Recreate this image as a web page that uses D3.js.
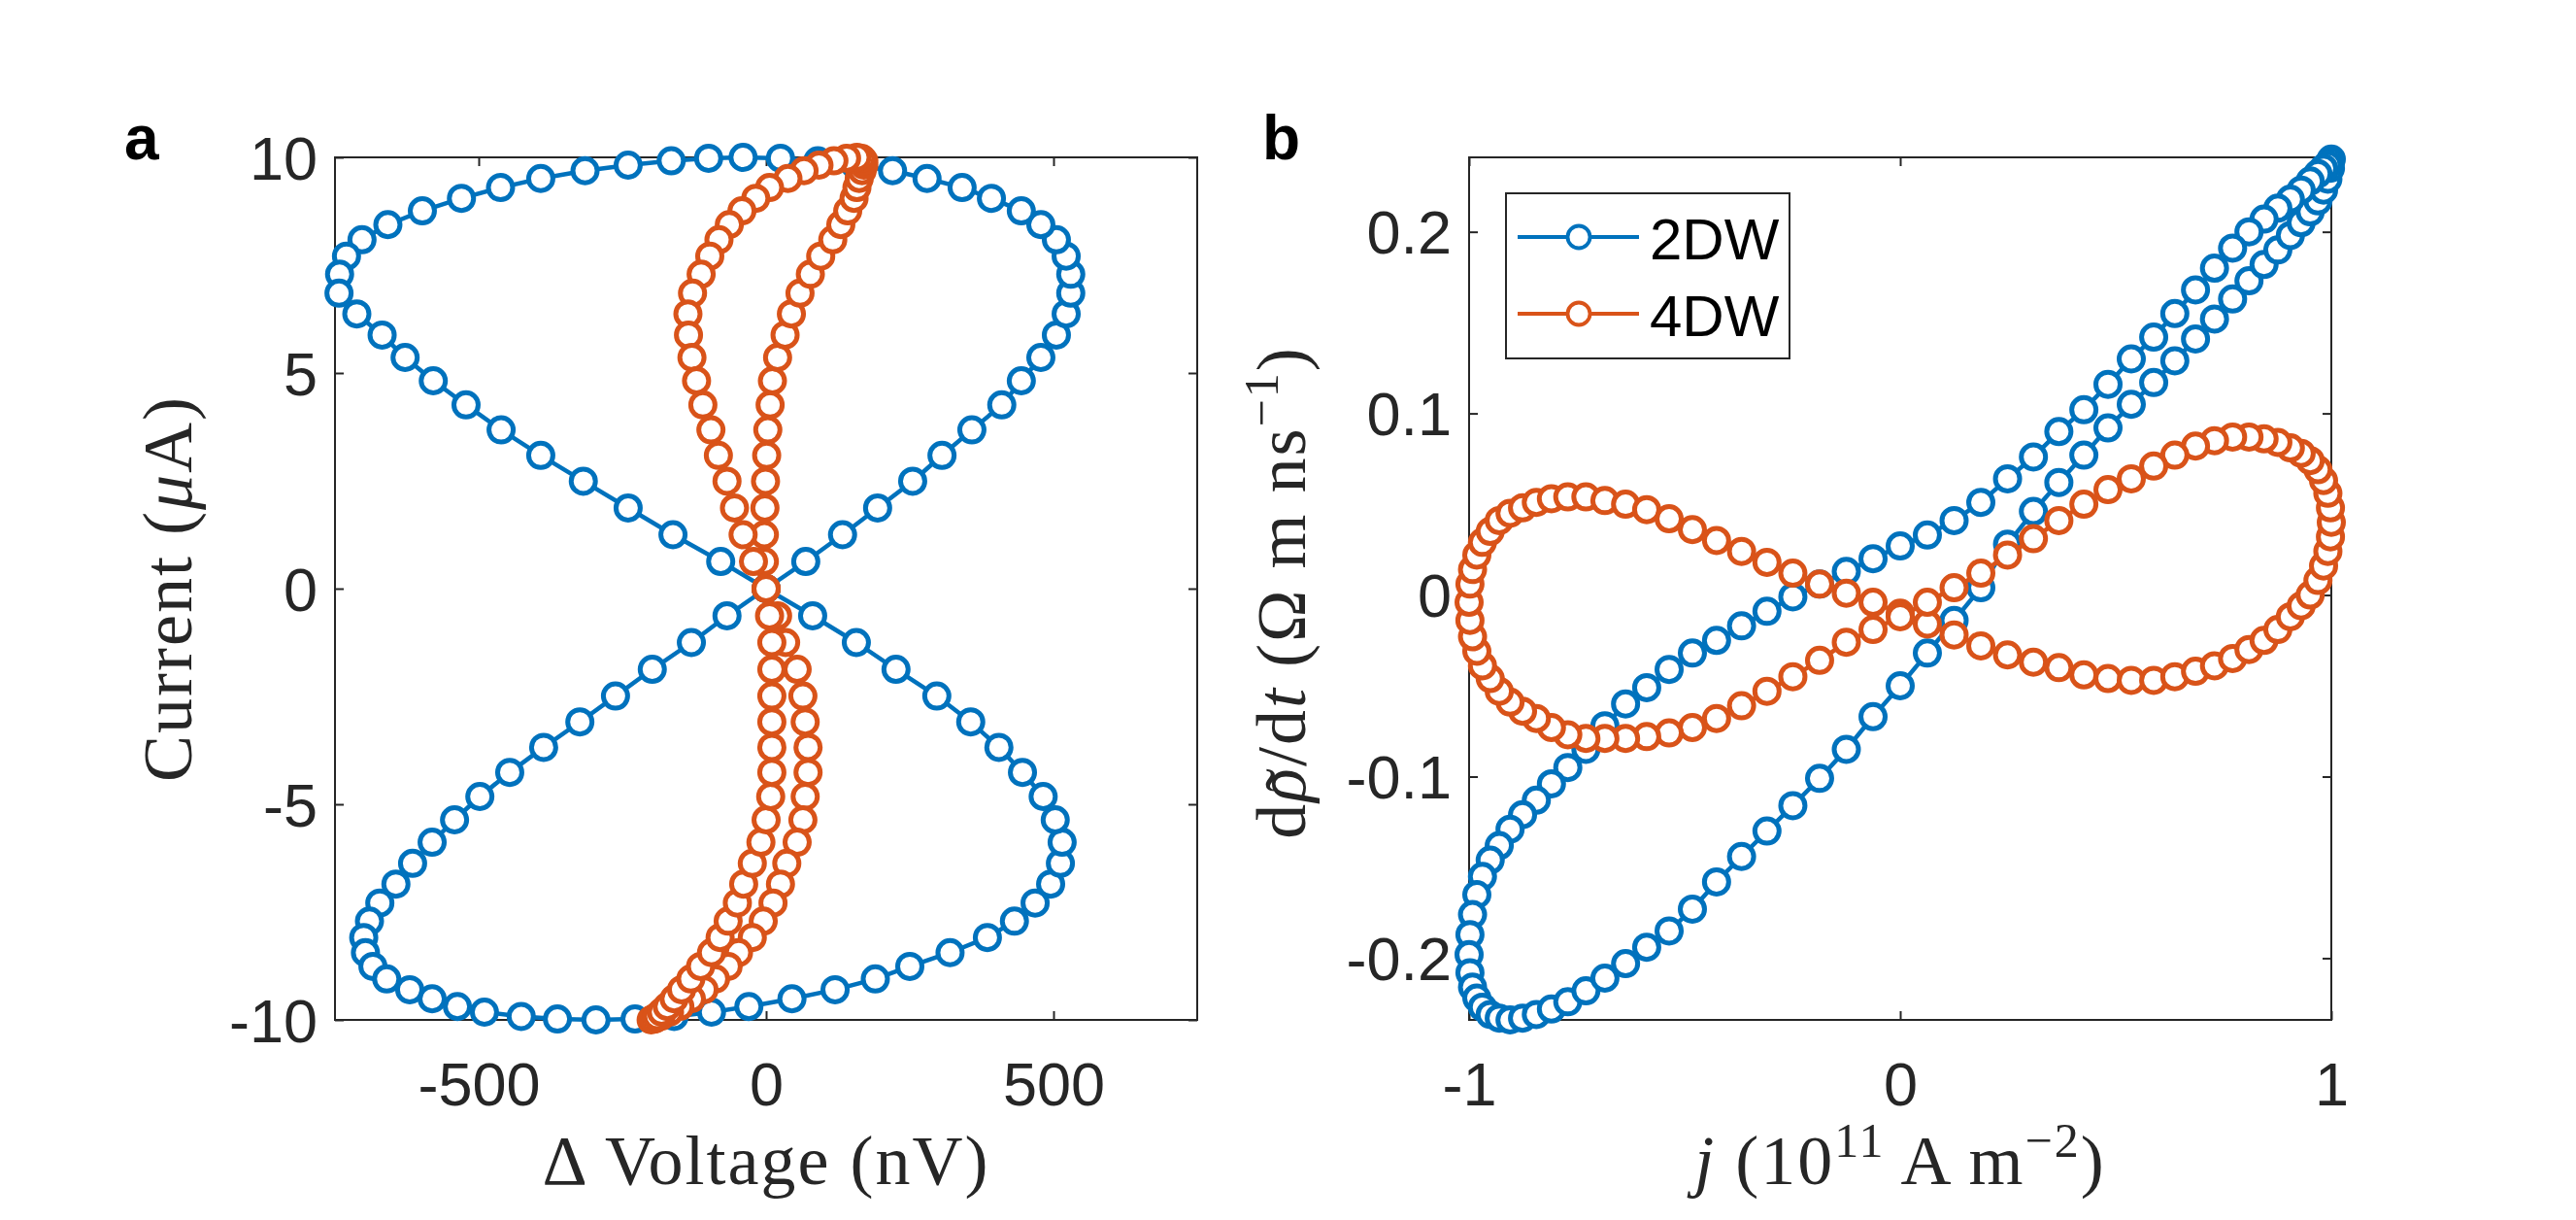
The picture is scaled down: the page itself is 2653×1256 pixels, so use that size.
<!DOCTYPE html>
<html>
<head>
<meta charset="utf-8">
<script src="https://d3js.org/d3.v7.min.js"></script>
<style>
body { margin: 0; background: #ffffff; }
</style>
</head>
<body>
<svg id="fig" width="2653" height="1256"></svg>
<script>

// panel a: current (uA) vs delta voltage (nV), one drive cycle
var currentA = [
    0, 0.63, 1.25, 1.87, 2.49, 3.09, 3.68, 4.26, 4.82, 5.36, 5.88, 6.37, 6.85, 7.29, 7.71, 8.09, 8.44, 8.76, 9.05, 9.30, 9.51, 9.69, 9.82, 9.92, 9.98,
    10.0, 9.98, 9.92, 9.82, 9.69, 9.51, 9.30, 9.05, 8.76, 8.44, 8.09, 7.71, 7.29, 6.85, 6.37, 5.88, 5.36, 4.82, 4.26, 3.68, 3.09, 2.49, 1.87, 1.25, 0.63,
    0, -0.63, -1.25, -1.87, -2.49, -3.09, -3.68, -4.26, -4.82, -5.36, -5.88, -6.37, -6.85, -7.29, -7.71, -8.09, -8.44, -8.76, -9.05, -9.30, -9.51, -9.69, -9.82, -9.92, -9.98,
    -10.0, -9.98, -9.92, -9.82, -9.69, -9.51, -9.30, -9.05, -8.76, -8.44, -8.09, -7.71, -7.29, -6.85, -6.37, -5.88, -5.36, -4.82, -4.26, -3.68, -3.09, -2.49, -1.87, -1.25, -0.63
];
var voltBlue = [
    0, 69, 133, 194, 255, 306, 358, 410, 444, 478, 505, 522, 530, 530, 522, 505, 478, 444, 392, 341, 280, 220, 155, 90, 25,
    -40, -100, -165, -240, -315, -392, -462, -530, -598, -658, -703, -730, -742, -743, -712, -668, -628, -579, -522, -461, -392, -318, -240, -162, -79,
    0, -68, -130, -198, -262, -324, -387, -446, -498, -542, -581, -615, -644, -672, -690, -700, -697, -684, -660, -620, -581, -537, -490, -426, -363,
    -296, -228, -160, -95, -30, 45, 120, 190, 250, 320, 385, 432, 468, 495, 512, 515, 503, 482, 446, 405, 356, 297, 226, 157, 81
];
var voltOrange = [
    0, -3, -3, -2, -1, 1, 3, 7, 11, 20, 33, 44, 59, 77, 95, 116, 130, 142, 153, 158, 162, 167, 170, 170, 166,
    158, 140, 118, 92, 66, 38, 6, -18, -42, -64, -82, -98, -113, -128, -136, -135, -129, -121, -110, -96, -83, -68, -55, -40, -22,
    0, 20, 34, 54, 64, 68, 73, 73, 68, 64, 54, 36, 25, 12, -5, -24, -48, -66, -88, -108, -130, -150, -168, -183, -194,
    -200, -196, -190, -182, -172, -160, -147, -131, -114, -95, -80, -66, -50, -39, -24, -9, 0, 8, 10, 10, 10, 10, 10, 10, 6
];

// panel b: d(rho)/dt vs current density j
var jDensity = [
    0, 0.063, 0.125, 0.187, 0.249, 0.309, 0.368, 0.426, 0.482, 0.536, 0.588, 0.637, 0.685, 0.729, 0.771, 0.809, 0.844, 0.876, 0.905, 0.930, 0.951, 0.969, 0.982, 0.992, 0.998,
    1.000, 0.998, 0.992, 0.982, 0.969, 0.951, 0.930, 0.905, 0.876, 0.844, 0.809, 0.771, 0.729, 0.685, 0.637, 0.588, 0.536, 0.482, 0.426, 0.368, 0.309, 0.249, 0.187, 0.125, 0.063,
    0, -0.063, -0.125, -0.187, -0.249, -0.309, -0.368, -0.426, -0.482, -0.536, -0.588, -0.637, -0.685, -0.729, -0.771, -0.809, -0.844, -0.876, -0.905, -0.930, -0.951, -0.969, -0.982, -0.992, -0.998,
    -1.000, -0.998, -0.992, -0.982, -0.969, -0.951, -0.930, -0.905, -0.876, -0.844, -0.809, -0.771, -0.729, -0.685, -0.637, -0.588, -0.536, -0.482, -0.426, -0.368, -0.309, -0.249, -0.187, -0.125, -0.063
];
var rateBlue = [
    -0.050, -0.032, -0.014, 0.004, 0.028, 0.046, 0.062, 0.077, 0.092, 0.105, 0.117, 0.129, 0.141, 0.152, 0.163, 0.173, 0.182, 0.190, 0.198, 0.205, 0.211, 0.217, 0.223, 0.229, 0.235,
    0.240, 0.239, 0.237, 0.235, 0.232, 0.228, 0.223, 0.218, 0.213, 0.207, 0.200, 0.191, 0.180, 0.168, 0.155, 0.142, 0.130, 0.116, 0.102, 0.090, 0.076, 0.064, 0.051, 0.041, 0.033,
    0.027, 0.020, 0.013, 0.006, -0.001, -0.009, -0.017, -0.025, -0.032, -0.041, -0.051, -0.060, -0.072, -0.085, -0.095, -0.104, -0.113, -0.121, -0.129, -0.138, -0.146, -0.155, -0.165, -0.176, -0.187,
    -0.198, -0.208, -0.216, -0.222, -0.227, -0.231, -0.233, -0.234, -0.233, -0.231, -0.228, -0.224, -0.218, -0.211, -0.203, -0.194, -0.185, -0.173, -0.158, -0.144, -0.130, -0.116, -0.101, -0.085, -0.067
];
var rateOrange = [
    -0.010, -0.016, -0.022, -0.028, -0.033, -0.037, -0.040, -0.044, -0.046, -0.047, -0.047, -0.045, -0.042, -0.039, -0.035, -0.030, -0.025, -0.019, -0.012, -0.006, 0.000, 0.008, 0.016, 0.024, 0.032,
    0.040, 0.048, 0.056, 0.063, 0.069, 0.074, 0.078, 0.081, 0.084, 0.086, 0.087, 0.087, 0.085, 0.082, 0.077, 0.071, 0.064, 0.058, 0.050, 0.041, 0.031, 0.022, 0.012, 0.004, -0.004,
    -0.012, -0.019, -0.026, -0.036, -0.045, -0.053, -0.061, -0.068, -0.073, -0.076, -0.078, -0.079, -0.079, -0.079, -0.077, -0.073, -0.068, -0.064, -0.059, -0.053, -0.046, -0.039, -0.031, -0.023, -0.014,
    -0.004, 0.006, 0.014, 0.022, 0.029, 0.035, 0.041, 0.045, 0.048, 0.051, 0.053, 0.054, 0.054, 0.052, 0.050, 0.047, 0.042, 0.036, 0.030, 0.024, 0.018, 0.012, 0.006, 0.001, -0.004
];

var voltTicks = [-500, 0, 500];
var currentTicks = [-10, -5, 0, 5, 10];
var jTicks = [-1, 0, 1];
var rateTicks = [-0.2, -0.1, 0, 0.1, 0.2];

var seriesNames = ["2DW", "4DW"];
var seriesColors = ["#0072BD", "#D95319"];

var svg = d3.select("#fig");
var axisColor = "#262626";
var tickFont = "'Liberation Sans', Arial, Helvetica, sans-serif";
var labelFont = "'Liberation Serif', 'Times New Roman', serif";
var tickLen = 9;

function fmt(d) {
    return String(d);
}

function drawPanel(box, xDomain, yDomain, xTicks, yTicks, aX, aY) {

    var x = d3.scaleLinear().domain(xDomain).range([box.x0, box.x1]);
    var y = d3.scaleLinear().domain(yDomain).range([box.y1, box.y0]);

    var g = svg.append("g");

    // ticks point inward on all four sides
    var bottom = g.append("g")
        .attr("transform", "translate(0," + box.y1 + ")")
        .call(d3.axisBottom(x).tickValues(xTicks).tickSizeInner(-tickLen).tickSizeOuter(0).tickPadding(43).tickFormat(fmt));
    var top = g.append("g")
        .attr("transform", "translate(0," + box.y0 + ")")
        .call(d3.axisTop(x).tickValues(xTicks).tickSizeInner(-tickLen).tickSizeOuter(0).tickFormat(""));
    var left = g.append("g")
        .attr("transform", "translate(" + box.x0 + ",0)")
        .call(d3.axisLeft(y).tickValues(yTicks).tickSizeInner(-tickLen).tickSizeOuter(0).tickPadding(18).tickFormat(fmt));
    var right = g.append("g")
        .attr("transform", "translate(" + box.x1 + ",0)")
        .call(d3.axisRight(y).tickValues(yTicks).tickSizeInner(-tickLen).tickSizeOuter(0).tickFormat(""));

    [bottom, top, left, right].forEach(function(a) {
        a.select(".domain").remove();
        a.selectAll(".tick line").attr("stroke", axisColor).attr("stroke-width", 2);
        a.selectAll(".tick text")
            .attr("fill", axisColor)
            .attr("font-family", tickFont)
            .attr("font-size", "63px");
    });
    left.selectAll(".tick text").attr("dy", "0.35em");

    g.append("rect")
        .attr("x", box.x0)
        .attr("y", box.y0)
        .attr("width", box.x1 - box.x0)
        .attr("height", box.y1 - box.y0)
        .attr("fill", "none")
        .attr("stroke", axisColor)
        .attr("stroke-width", 2);

    var line = d3.line()
        .x(function(d) { return x(d[0]); })
        .y(function(d) { return y(d[1]); })
        .curve(d3.curveLinearClosed);

    for (var s = 0; s < aX.length; s++) {
        var pts = d3.zip(aX[s], aY[s]);
        var sg = g.append("g");

        sg.append("path")
            .datum(pts)
            .attr("d", line)
            .attr("fill", "none")
            .attr("stroke", seriesColors[s])
            .attr("stroke-width", 4.5)
            .attr("stroke-linejoin", "round");

        sg.selectAll("circle")
            .data(pts)
            .enter()
            .append("circle")
            .attr("cx", function(d) { return x(d[0]); })
            .attr("cy", function(d) { return y(d[1]); })
            .attr("r", 12.5)
            .attr("fill", "white")
            .attr("stroke", seriesColors[s])
            .attr("stroke-width", 5);
    }
}

var boxA = {x0: 345, x1: 1233, y0: 162, y1: 1050};
var boxB = {x0: 1513, x1: 2401, y0: 162, y1: 1050};

drawPanel(boxA, [-750, 750], [-10, 10], voltTicks, currentTicks, [voltBlue, voltOrange], [currentA, currentA]);
drawPanel(boxB, [-1, 1], [-0.234, 0.241], jTicks, rateTicks, [jDensity, jDensity], [rateBlue, rateOrange]);

// panel letters
svg.append("text").text("a")
    .attr("x", 128).attr("y", 164)
    .attr("font-family", tickFont).attr("font-weight", "bold").attr("font-size", "64px").attr("fill", "black");
svg.append("text").text("b")
    .attr("x", 1300).attr("y", 164)
    .attr("font-family", tickFont).attr("font-weight", "bold").attr("font-size", "64px").attr("fill", "black");

// axis labels (latex style)
function label(xpos, ypos, rot) {
    var g = svg.append("g")
        .attr("transform", "translate(" + xpos + "," + ypos + ")" + (rot ? " rotate(-90)" : ""));
    var t = g.append("text")
        .attr("text-anchor", "middle")
        .attr("font-family", labelFont)
        .attr("font-size", "72px")
        .attr("letter-spacing", "2px")
        .attr("fill", axisColor);
    return t;
}

var xa = label((boxA.x0 + boxA.x1) / 2, 1219, false);
xa.append("tspan").text("\u0394 Voltage (nV)");

var ya = label(197, (boxA.y0 + boxA.y1) / 2, true);
ya.append("tspan").text("Current (");
ya.append("tspan").attr("font-style", "italic").text("\u03bc");
ya.append("tspan").text("A)");

var xb = label((boxB.x0 + boxB.x1) / 2, 1219, false);
xb.append("tspan").attr("font-style", "italic").text("j");
xb.append("tspan").text(" (10");
xb.append("tspan").attr("font-size", "50px").attr("dy", "-28").text("11");
xb.append("tspan").attr("dy", "28").text(" A m");
xb.append("tspan").attr("font-size", "50px").attr("dy", "-28").text("\u22122");
xb.append("tspan").attr("dy", "28").text(")");

var yb = label(1344, 610, true);
yb.append("tspan").text("d");
yb.append("tspan").attr("font-style", "italic").text("\u03c1");
yb.append("tspan").text("/d");
yb.append("tspan").attr("font-style", "italic").text("t");
yb.append("tspan").text(" (\u03a9 m ns");
yb.append("tspan").attr("font-size", "50px").attr("dy", "-28").text("\u22121");
yb.append("tspan").attr("dy", "28").text(")");

// tilde over rho, placed from the measured glyph box
var rhoBox = yb.node().getExtentOfChar(1);
d3.select(yb.node().parentNode).append("text")
    .text("\u02dc")
    .attr("x", rhoBox.x + rhoBox.width / 2 + 4)
    .attr("y", 8)
    .attr("text-anchor", "middle")
    .attr("font-family", labelFont)
    .attr("font-size", "72px")
    .attr("fill", axisColor);

// legend
var leg = {x0: 1551, y0: 199, w: 292, h: 170};
var legRows = [244, 323];
svg.append("rect")
    .attr("x", leg.x0).attr("y", leg.y0)
    .attr("width", leg.w).attr("height", leg.h)
    .attr("fill", "white")
    .attr("stroke", axisColor)
    .attr("stroke-width", 2);

seriesNames.forEach(function(name, i) {
    var yy = legRows[i];
    svg.append("line")
        .attr("x1", 1563).attr("x2", 1688)
        .attr("y1", yy).attr("y2", yy)
        .attr("stroke", seriesColors[i]).attr("stroke-width", 4);
    svg.append("circle")
        .attr("cx", 1626).attr("cy", yy).attr("r", 11.5)
        .attr("fill", "white").attr("stroke", seriesColors[i]).attr("stroke-width", 3.8);
    svg.append("text").text(name)
        .attr("x", 1699).attr("y", yy + 23)
        .attr("font-family", tickFont).attr("font-size", "60px").attr("fill", "black");
});

</script>
</body>
</html>
